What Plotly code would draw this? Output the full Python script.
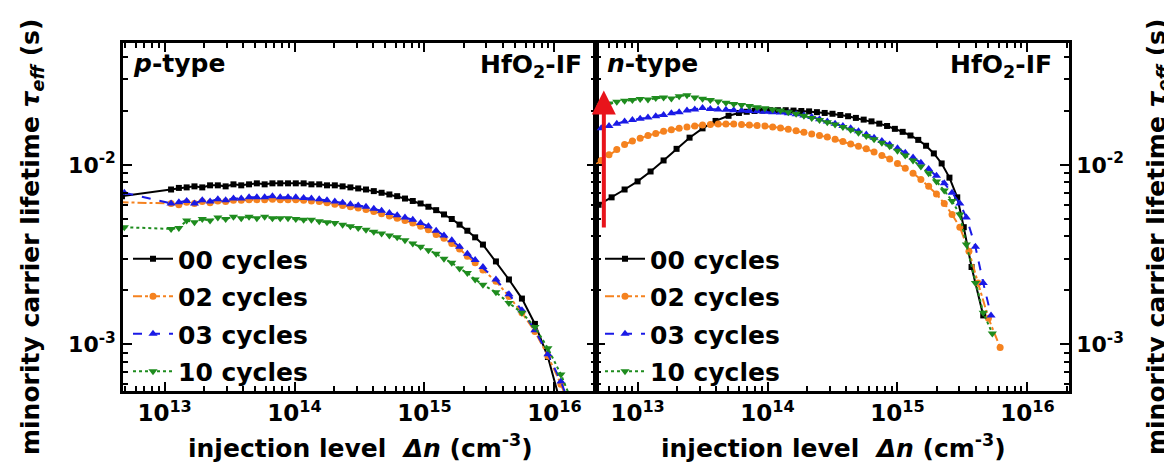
import math
import plotly.graph_objects as go

# ---------------- data ----------------
cycles = ["00 cycles", "02 cycles", "03 cycles", "10 cycles"]

# left panel (p-type): shared injection grid (cm^-3)
x_left = [1.122e13, 1.288e13, 1.479e13, 1.698e13, 1.950e13, 2.239e13, 2.570e13, 2.951e13,
          3.388e13, 3.890e13, 4.467e13, 5.129e13, 5.888e13, 6.761e13, 7.762e13, 8.913e13,
          1.023e14, 1.175e14, 1.349e14, 1.549e14, 1.778e14, 2.042e14, 2.344e14, 2.692e14,
          3.090e14, 3.548e14, 4.074e14, 4.677e14, 5.370e14, 6.166e14, 7.079e14, 8.128e14,
          9.333e14, 1.072e15, 1.230e15, 1.413e15, 1.622e15, 1.862e15, 2.138e15, 2.455e15,
          2.818e15, 3.548e15, 4.467e15, 5.623e15, 7.079e15, 8.913e15, 1.122e16, 1.413e16]
x_left_start = [4.7e12, 4.5e12, 4.9e12, 4.9e12]   # first (edge) point of each series

tau_p00 = [6.7e-3,
           7.3e-3, 7.45e-3, 7.5e-3, 7.6e-3, 7.5e-3, 7.7e-3, 7.7e-3, 7.6e-3, 7.8e-3, 7.7e-3,
           7.8e-3, 7.9e-3, 7.8e-3, 7.9e-3, 7.9e-3, 7.9e-3, 7.9e-3, 7.9e-3, 7.8e-3, 7.8e-3,
           7.7e-3, 7.7e-3, 7.6e-3, 7.5e-3, 7.4e-3, 7.3e-3, 7.15e-3, 7.0e-3, 6.85e-3, 6.7e-3,
           6.5e-3, 6.3e-3, 6.1e-3, 5.85e-3, 5.6e-3, 5.3e-3, 5.0e-3, 4.65e-3, 4.3e-3, 3.95e-3,
           3.6e-3, 2.9e-3, 2.3e-3, 1.8e-3, 1.3e-3, 8.5e-4, 4.8e-4, 2.5e-4]
tau_p02 = [6.2e-3,
           6.1e-3, 6.0e-3, 6.2e-3, 6.1e-3, 6.25e-3, 6.15e-3, 6.3e-3, 6.25e-3, 6.35e-3, 6.35e-3,
           6.4e-3, 6.4e-3, 6.4e-3, 6.45e-3, 6.4e-3, 6.4e-3, 6.4e-3, 6.35e-3, 6.3e-3, 6.25e-3,
           6.15e-3, 6.05e-3, 5.95e-3, 5.85e-3, 5.75e-3, 5.65e-3, 5.5e-3, 5.35e-3, 5.2e-3, 5.05e-3,
           4.9e-3, 4.75e-3, 4.55e-3, 4.35e-3, 4.1e-3, 3.9e-3, 3.65e-3, 3.4e-3, 3.1e-3, 2.85e-3,
           2.6e-3, 2.25e-3, 1.85e-3, 1.5e-3, 1.18e-3, 8.6e-4, 6.0e-4, 3.9e-4]
tau_p03 = [7.0e-3,
           6.1e-3, 6.2e-3, 6.3e-3, 6.1e-3, 6.35e-3, 6.25e-3, 6.45e-3, 6.35e-3, 6.5e-3, 6.5e-3,
           6.6e-3, 6.6e-3, 6.6e-3, 6.7e-3, 6.6e-3, 6.6e-3, 6.6e-3, 6.55e-3, 6.5e-3, 6.45e-3,
           6.35e-3, 6.25e-3, 6.15e-3, 6.05e-3, 5.95e-3, 5.85e-3, 5.7e-3, 5.55e-3, 5.4e-3, 5.25e-3,
           5.1e-3, 4.95e-3, 4.75e-3, 4.55e-3, 4.3e-3, 4.05e-3, 3.8e-3, 3.5e-3, 3.2e-3, 2.95e-3,
           2.7e-3, 2.3e-3, 1.9e-3, 1.55e-3, 1.2e-3, 8.8e-4, 6.2e-4, 4.0e-4]
tau_p10 = [4.5e-3,
           4.4e-3, 4.45e-3, 4.9e-3, 4.8e-3, 5.0e-3, 4.9e-3, 5.1e-3, 5.0e-3, 5.15e-3, 5.05e-3,
           5.15e-3, 5.05e-3, 5.15e-3, 5.05e-3, 5.05e-3, 5.05e-3, 5.0e-3, 4.95e-3, 4.95e-3, 4.85e-3,
           4.8e-3, 4.75e-3, 4.65e-3, 4.55e-3, 4.45e-3, 4.35e-3, 4.25e-3, 4.15e-3, 4.05e-3, 3.95e-3,
           3.8e-3, 3.65e-3, 3.5e-3, 3.35e-3, 3.2e-3, 3.0e-3, 2.85e-3, 2.65e-3, 2.5e-3, 2.3e-3,
           2.15e-3, 1.95e-3, 1.7e-3, 1.5e-3, 1.25e-3, 9.5e-4, 6.8e-4, 4.5e-4]

# right panel (n-type)
x_right = [4.5e12, 5.248e12, 6.026e12, 6.918e12, 7.943e12, 9.120e12, 1.047e13, 1.202e13, 1.380e13,
           1.585e13, 1.820e13, 2.089e13, 2.399e13, 2.754e13, 3.162e13, 3.631e13, 4.169e13,
           4.786e13, 5.495e13, 6.310e13, 7.244e13, 8.318e13, 9.550e13, 1.096e14, 1.259e14,
           1.445e14, 1.660e14, 1.905e14, 2.188e14, 2.512e14, 2.884e14, 3.311e14, 3.802e14,
           4.365e14, 5.012e14, 5.754e14, 6.607e14, 7.586e14, 8.710e14, 1.000e15, 1.148e15,
           1.318e15, 1.514e15, 1.738e15, 1.995e15, 2.291e15, 2.630e15, 3.020e15]
x_n02_tail = [3.548e15, 4.169e15, 5.012e15, 6.166e15]
x_n03_tail = [3.388e15, 3.981e15, 4.571e15, 5.248e15]
x_n10_tail = [3.388e15, 3.981e15, 4.571e15, 5.370e15]

x_n00 = [5.012e12, 6.310e12, 7.943e12, 1.000e13, 1.259e13, 1.585e13, 1.995e13, 2.512e13,
         3.162e13, 3.981e13, 5.012e13, 6.026e13, 6.918e13, 7.943e13, 9.120e13, 1.047e14,
         1.202e14, 1.380e14, 1.585e14, 1.820e14, 2.089e14, 2.399e14, 2.754e14, 3.162e14,
         3.631e14, 4.169e14, 4.786e14, 5.495e14, 6.310e14, 7.244e14, 8.318e14, 9.550e14,
         1.096e15, 1.259e15, 1.445e15, 1.660e15, 1.905e15, 2.188e15, 2.512e15, 2.884e15,
         3.236e15, 3.715e15, 4.571e15]
tau_n00 = [6.0e-3, 6.6e-3, 7.3e-3, 8.1e-3, 9.2e-3, 1.06e-2, 1.23e-2, 1.42e-2, 1.6e-2, 1.76e-2,
           1.88e-2, 1.95e-2, 1.98e-2, 2.0e-2, 2.01e-2, 2.02e-2, 2.02e-2, 2.02e-2, 2.01e-2, 2.0e-2,
           1.99e-2, 1.97e-2, 1.95e-2, 1.93e-2, 1.9e-2, 1.87e-2, 1.83e-2, 1.79e-2, 1.75e-2, 1.7e-2,
           1.65e-2, 1.59e-2, 1.53e-2, 1.46e-2, 1.38e-2, 1.28e-2, 1.16e-2, 1.02e-2, 8.5e-3, 6.6e-3,
           4.5e-3, 2.7e-3, 1.45e-3]
tau_n02 = [9.8e-3, 1.06e-2, 1.14e-2, 1.22e-2, 1.3e-2, 1.36e-2, 1.41e-2, 1.46e-2, 1.5e-2, 1.54e-2,
           1.57e-2, 1.6e-2, 1.63e-2, 1.65e-2, 1.67e-2, 1.68e-2, 1.69e-2, 1.69e-2, 1.69e-2, 1.68e-2,
           1.67e-2, 1.66e-2, 1.65e-2, 1.63e-2, 1.61e-2, 1.58e-2, 1.55e-2, 1.52e-2, 1.49e-2, 1.46e-2,
           1.43e-2, 1.39e-2, 1.35e-2, 1.31e-2, 1.27e-2, 1.23e-2, 1.18e-2, 1.13e-2, 1.08e-2, 1.02e-2,
           9.6e-3, 9.0e-3, 8.3e-3, 7.6e-3, 6.9e-3, 6.1e-3, 5.3e-3, 4.5e-3,
           3.3e-3, 2.2e-3, 1.4e-3, 9.6e-4]
tau_n03 = [1.6e-2, 1.65e-2, 1.7e-2, 1.75e-2, 1.78e-2, 1.81e-2, 1.84e-2, 1.87e-2, 1.9e-2, 1.94e-2,
           1.97e-2, 2.01e-2, 2.04e-2, 2.08e-2, 2.05e-2, 2.04e-2, 2.03e-2, 2.02e-2, 2.01e-2, 2.0e-2,
           1.99e-2, 1.98e-2, 1.97e-2, 1.96e-2, 1.94e-2, 1.92e-2, 1.89e-2, 1.85e-2, 1.8e-2, 1.75e-2,
           1.7e-2, 1.65e-2, 1.6e-2, 1.54e-2, 1.48e-2, 1.42e-2, 1.36e-2, 1.3e-2, 1.24e-2, 1.17e-2,
           1.1e-2, 1.03e-2, 9.5e-3, 8.7e-3, 7.9e-3, 7.0e-3, 6.1e-3, 5.1e-3,
           3.5e-3, 2.2e-3, 1.45e-3, 1.15e-3]
tau_n10 = [2.1e-2, 2.15e-2, 2.2e-2, 2.25e-2, 2.28e-2, 2.3e-2, 2.33e-2, 2.32e-2, 2.36e-2, 2.38e-2,
           2.35e-2, 2.42e-2, 2.45e-2, 2.38e-2, 2.34e-2, 2.3e-2, 2.26e-2, 2.22e-2, 2.19e-2, 2.16e-2,
           2.13e-2, 2.1e-2, 2.07e-2, 2.04e-2, 2.01e-2, 1.97e-2, 1.93e-2, 1.88e-2, 1.83e-2, 1.78e-2,
           1.73e-2, 1.68e-2, 1.63e-2, 1.57e-2, 1.51e-2, 1.45e-2, 1.39e-2, 1.33e-2, 1.27e-2, 1.2e-2,
           1.13e-2, 1.06e-2, 9.8e-3, 9.0e-3, 8.1e-3, 7.2e-3, 6.3e-3, 5.3e-3,
           3.6e-3, 2.2e-3, 1.5e-3, 1.15e-3]

x_tickvals = [1e13, 1e14, 1e15, 1e16]
x_ticktext = ["10<sup>13</sup>", "10<sup>14</sup>", "10<sup>15</sup>", "10<sup>16</sup>"]
y_tickvals = [1e-3, 1e-2]
y_ticktext = ["10<sup>-3</sup>", "10<sup>-2</sup>"]

arrow_x = 5.5e12
arrow_tail = 4.4e-3
arrow_head = 2.6e-2

# ---------------- styles ----------------
colors = ["#000000", "#F5821F", "#1A1AE6", "#1E8C1E"]
symbols = ["square", "circle", "triangle-up", "triangle-down"]
msizes = [6, 7, 8, 8]
dashes = ["solid", "dashdot", "dash", "dot"]
FONT = "DejaVu Sans"

W, H = 1172, 467
ML, MR, MT, MB = 115, 111, 35, 84


def px_x(px):
    return (px - ML) / (W - ML - MR)


def px_y(py):
    return (H - MB - py) / (H - MT - MB)


fig = go.Figure()

left_series = [tau_p00, tau_p02, tau_p03, tau_p10]
for i, ys in enumerate(left_series):
    fig.add_trace(go.Scatter(
        x=[x_left_start[i]] + x_left, y=ys, mode="lines+markers", name=cycles[i],
        line=dict(color=colors[i], width=2, dash=dashes[i]),
        marker=dict(symbol=symbols[i], size=msizes[i], color=colors[i]),
        xaxis="x", yaxis="y", legend="legend", legendgroup="L" + str(i)))

right_x = [x_n00, x_right + x_n02_tail, x_right[1:] + x_n03_tail, x_right + x_n10_tail]
right_y = [tau_n00, tau_n02, tau_n03, tau_n10]
for i in range(4):
    fig.add_trace(go.Scatter(
        x=right_x[i], y=right_y[i], mode="lines+markers", name=cycles[i],
        line=dict(color=colors[i], width=2, dash=dashes[i]),
        marker=dict(symbol=symbols[i], size=msizes[i], color=colors[i]),
        xaxis="x2", yaxis="y2", legend="legend2", legendgroup="R" + str(i)))

axis_common = dict(
    type="log", showline=True, linecolor="black", linewidth=2.5, mirror="ticks",
    ticks="inside", ticklen=9, tickwidth=2, tickcolor="black",
    tickmode="array", showgrid=False, zeroline=False,
    minor=dict(ticks="inside", ticklen=5, tickwidth=1.5, tickcolor="black", dtick="D1", showgrid=False),
)
xfont = dict(family=FONT, size=23, color="black", weight="bold")
yfont = dict(family=FONT, size=22, color="black", weight="bold")
xr = [12.68, 16.32]
yr = [-3.26, -1.32]

legend_common = dict(
    xanchor="left", yanchor="top", bgcolor="rgba(0,0,0,0)", borderwidth=0,
    font=dict(family=FONT, size=25, color="black", weight="bold"),
    itemwidth=40, tracegroupgap=2, traceorder="grouped",
)

fig.update_layout(
    width=W, height=H, margin=dict(l=ML, r=MR, t=MT, b=MB),
    paper_bgcolor="white", plot_bgcolor="white",
    font=dict(family=FONT, size=25, color="black", weight="bold"),
    xaxis=dict(domain=[0, 0.5], range=xr, anchor="y", tickvals=x_tickvals, ticktext=x_ticktext,
               tickfont=xfont, **axis_common),
    xaxis2=dict(domain=[0.5, 1], range=xr, anchor="y2", tickvals=x_tickvals, ticktext=x_ticktext,
                tickfont=xfont, **axis_common),
    yaxis=dict(domain=[0, 1], range=yr, anchor="x", tickvals=y_tickvals, ticktext=y_ticktext,
               tickfont=yfont, **axis_common),
    yaxis2=dict(domain=[0, 1], range=yr, anchor="x2", side="right", tickvals=y_tickvals, ticktext=y_ticktext,
                tickfont=yfont, **axis_common),
    legend=dict(x=px_x(120), y=px_y(228), **legend_common),
    legend2=dict(x=px_x(592), y=px_y(228), **legend_common),
    showlegend=True,
)

afont = dict(family=FONT, size=25, color="black", weight="bold")
ann = []
# panel labels
ann.append(dict(text="<i>p</i>-type", x=px_x(123), y=px_y(56), xref="paper", yref="paper",
                xanchor="left", yanchor="middle", showarrow=False, font=afont))
ann.append(dict(text="<i>n</i>-type", x=px_x(597), y=px_y(56), xref="paper", yref="paper",
                xanchor="left", yanchor="middle", showarrow=False, font=afont))
ann.append(dict(text="HfO<sub>2</sub>-IF", x=px_x(576), y=px_y(58), xref="paper", yref="paper",
                xanchor="right", yanchor="middle", showarrow=False, font=afont))
ann.append(dict(text="HfO<sub>2</sub>-IF", x=px_x(1046), y=px_y(58), xref="paper", yref="paper",
                xanchor="right", yanchor="middle", showarrow=False, font=afont))
# axis titles
xtitle = "injection level\u00a0 <i>\u0394n</i> (cm<sup>-3</sup>)"
ann.append(dict(text=xtitle, x=px_x(352), y=px_y(438), xref="paper", yref="paper",
                xanchor="center", yanchor="middle", showarrow=False, font=afont))
ann.append(dict(text=xtitle, x=px_x(825), y=px_y(438), xref="paper", yref="paper",
                xanchor="center", yanchor="middle", showarrow=False, font=afont))
ytitle = "minority carrier lifetime <i>\u03c4</i><sub><i>eff</i></sub> (s)"
ann.append(dict(text=ytitle, x=px_x(24), y=px_y(229), xref="paper", yref="paper",
                xanchor="center", yanchor="middle", textangle=-90, showarrow=False, font=afont))
ann.append(dict(text=ytitle, x=px_x(1150), y=px_y(229), xref="paper", yref="paper",
                xanchor="center", yanchor="middle", textangle=-90, showarrow=False, font=afont))
# red arrow
ann.append(dict(text="", x=math.log10(arrow_x), y=math.log10(arrow_head),
                ax=math.log10(arrow_x), ay=math.log10(arrow_tail),
                xref="x2", yref="y2", axref="x2", ayref="y2",
                showarrow=True, arrowhead=2, arrowsize=1.2, arrowwidth=4,
                arrowcolor="#E8141B", standoff=0, startstandoff=0))
fig.update_layout(annotations=ann)

fig.write_html("out.html")
